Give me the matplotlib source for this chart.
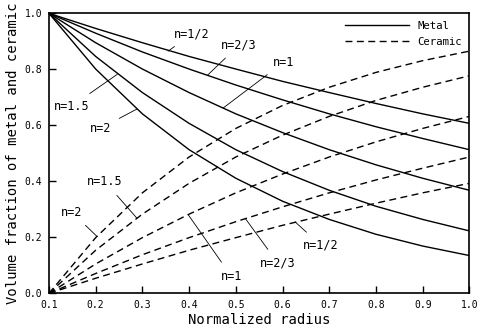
import matplotlib.pyplot as plt

# normalized radius
radius = [0.1, 0.2, 0.3, 0.4, 0.5, 0.6, 0.7, 0.8, 0.9, 1.0]

# metal volume fraction
metal_n05 = [1.0, 0.946, 0.895, 0.846, 0.801, 0.757, 0.717, 0.678, 0.641, 0.607]
metal_n067 = [1.0, 0.929, 0.862, 0.801, 0.744, 0.691, 0.641, 0.595, 0.553, 0.513]
metal_n1 = [1.0, 0.895, 0.801, 0.717, 0.641, 0.574, 0.513, 0.459, 0.411, 0.368]
metal_n15 = [1.0, 0.846, 0.717, 0.607, 0.513, 0.435, 0.368, 0.311, 0.264, 0.223]
metal_n2 = [1.0, 0.801, 0.641, 0.513, 0.411, 0.329, 0.264, 0.211, 0.169, 0.135]

# ceramic volume fraction
ceramic_n05 = [0.0, 0.054, 0.105, 0.154, 0.199, 0.243, 0.283, 0.322, 0.359, 0.393]
ceramic_n067 = [0.0, 0.071, 0.138, 0.199, 0.256, 0.309, 0.359, 0.405, 0.447, 0.487]
ceramic_n1 = [0.0, 0.105, 0.199, 0.283, 0.359, 0.426, 0.487, 0.541, 0.589, 0.632]
ceramic_n15 = [0.0, 0.154, 0.283, 0.393, 0.487, 0.565, 0.632, 0.689, 0.736, 0.777]
ceramic_n2 = [0.0, 0.199, 0.359, 0.487, 0.589, 0.671, 0.736, 0.789, 0.831, 0.865]

metal = [metal_n05, metal_n067, metal_n1, metal_n15, metal_n2]
ceramic = [ceramic_n05, ceramic_n067, ceramic_n1, ceramic_n15, ceramic_n2]

# (label, text position, leader end on curve)
metal_labels = [
    ('n=1/2', (0.406, 0.926), (0.355, 0.865)),
    ('n=2/3', (0.507, 0.887), (0.440, 0.780)),
    ('n=1', (0.603, 0.826), (0.473, 0.662)),
    ('n=1.5', (0.149, 0.669), (0.246, 0.782)),
    ('n=2', (0.211, 0.590), (0.288, 0.658)),
]
ceramic_labels = [
    ('n=1.5', (0.220, 0.398), (0.288, 0.269)),
    ('n=2', (0.149, 0.290), (0.203, 0.203)),
    ('n=1', (0.490, 0.062), (0.398, 0.281)),
    ('n=2/3', (0.590, 0.108), (0.520, 0.268)),
    ('n=1/2', (0.682, 0.172), (0.627, 0.255)),
]

plt.rcParams['font.family'] = 'DejaVu Sans Mono'

fig = plt.figure(figsize=(4.8, 3.33), dpi=100)
ax = fig.add_axes([0.102, 0.119, 0.876, 0.841])

for i, ys in enumerate(metal):
    ax.plot(radius, ys, color='black', lw=1.0, label='Metal' if i == 0 else None)
for i, ys in enumerate(ceramic):
    ax.plot(radius, ys, color='black', lw=1.0, dashes=(5, 3.2),
            label='Ceramic' if i == 0 else None)

for text, tpos, cpos in metal_labels + ceramic_labels:
    ax.annotate(text, xy=cpos, xytext=tpos, fontsize=8.5, ha='center', va='center',
                arrowprops=dict(arrowstyle='-', lw=0.6, color='black',
                                shrinkA=4, shrinkB=0))

ax.set_xlim(0.1, 1.0)
ax.set_ylim(0.0, 1.0)
ax.set_xticks([0.1, 0.2, 0.3, 0.4, 0.5, 0.6, 0.7, 0.8, 0.9, 1.0])
ax.set_yticks([0.0, 0.2, 0.4, 0.6, 0.8, 1.0])
ax.tick_params(direction='in', length=5, width=1.0, labelsize=7, pad=5)
for s in ax.spines.values():
    s.set_linewidth(1.2)

ax.set_xlabel('Normalized radius', fontsize=10, labelpad=2)
ax.set_ylabel('Volume fraction of metal and ceramic', fontsize=10, labelpad=3)

ax.legend(loc='upper right', frameon=False, fontsize=7.7, handlelength=6,
          borderaxespad=0.3, labelspacing=0.6)

fig.savefig('out.png', dpi=100)
